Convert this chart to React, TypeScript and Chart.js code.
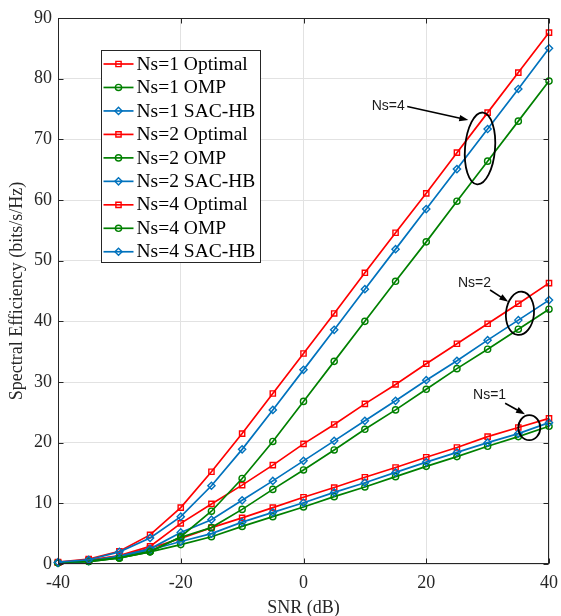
import React, { useEffect, useRef } from 'react';
import { Chart, registerables } from 'chart.js';

Chart.register(...registerables);

// ---- Data ----
const snrDb = [-40, -35, -30, -25, -20, -15, -10, -5, 0, 5, 10, 15, 20, 25, 30, 35, 40];

const ns1Optimal = [0.2, 0.6, 1.3, 2.6, 4.2, 6.0, 7.6, 9.3, 11.0, 12.6, 14.3, 15.9, 17.6, 19.2, 21.0, 22.5, 24.0];
const ns1Omp = [0.2, 0.4, 1.0, 2.0, 3.2, 4.5, 6.2, 7.8, 9.4, 11.1, 12.7, 14.4, 16.1, 17.7, 19.4, 21.0, 22.7];
const ns1SacHb = [0.2, 0.5, 1.2, 2.3, 3.7, 5.0, 6.9, 8.5, 10.1, 11.8, 13.4, 15.1, 16.8, 18.4, 20.0, 21.5, 23.3];

const ns2Optimal = [0.2, 0.6, 1.4, 2.9, 6.7, 9.9, 13.0, 16.3, 19.8, 23.0, 26.4, 29.6, 33.0, 36.3, 39.6, 42.9, 46.3];
const ns2Omp = [0.2, 0.4, 1.0, 2.1, 4.4, 6.0, 9.0, 12.3, 15.5, 18.8, 22.2, 25.4, 28.8, 32.2, 35.4, 38.7, 42.0];
const ns2SacHb = [0.2, 0.5, 1.3, 2.5, 5.2, 7.3, 10.5, 13.7, 17.0, 20.3, 23.6, 26.9, 30.3, 33.5, 36.9, 40.2, 43.5];

const ns4Optimal = [0.3, 0.8, 2.1, 4.8, 9.3, 15.2, 21.5, 28.1, 34.7, 41.3, 48.0, 54.6, 61.1, 67.8, 74.4, 81.0, 87.6];
const ns4Omp = [0.2, 0.5, 1.0, 2.0, 4.5, 8.7, 14.1, 20.2, 26.8, 33.4, 40.0, 46.6, 53.1, 59.8, 66.4, 73.0, 79.6];
const ns4SacHb = [0.3, 0.7, 2.0, 4.3, 7.8, 12.9, 18.9, 25.4, 32.0, 38.6, 45.3, 51.9, 58.5, 65.1, 71.7, 78.3, 85.0];

const seriesLabels = [
  'Ns=1 Optimal', 'Ns=1 OMP', 'Ns=1 SAC-HB',
  'Ns=2 Optimal', 'Ns=2 OMP', 'Ns=2 SAC-HB',
  'Ns=4 Optimal', 'Ns=4 OMP', 'Ns=4 SAC-HB',
];
const seriesValues = [
  ns1Optimal, ns1Omp, ns1SacHb,
  ns2Optimal, ns2Omp, ns2SacHb,
  ns4Optimal, ns4Omp, ns4SacHb,
];
const seriesKinds = ['opt', 'omp', 'sac', 'opt', 'omp', 'sac', 'opt', 'omp', 'sac'];

const xTickValues = [-40, -20, 0, 20, 40];
const yTickValues = [0, 10, 20, 30, 40, 50, 60, 70, 80, 90];

const xTitle = 'SNR (dB)';
const yTitle = 'Spectral Efficiency (bits/s/Hz)';

// Annotations (anchored in data coordinates)
const annotationLabels = ['Ns=4', 'Ns=2', 'Ns=1'];
const annotationTextAt = [[11.1, 75.5], [25.17, 46.37], [27.62, 27.86]];
const annotationArrowFrom = [[16.9, 75.4], [30.4, 45.16], [32.85, 26.49]];
const annotationArrowTo = [[26.85, 73.19], [33.37, 43.24], [36.09, 24.68]];
const annotationEllipseAt = [[28.76, 68.5], [35.27, 41.32], [36.79, 22.47]];

// ---- Styles ----
const STYLE: Record<string, { color: string; pointStyle: any; radius: number }> = {
  opt: { color: '#ff0000', pointStyle: 'rect', radius: 3.7 },
  omp: { color: '#008000', pointStyle: 'circle', radius: 3.1 },
  sac: { color: '#0072bd', pointStyle: 'rectRot', radius: 3.6 },
};
const ellipseSizes = [[15, 36, 0.08], [14, 21.7, 0.1], [11, 12.5, 0]];

const SERIF = '"Liberation Serif", "Times New Roman", serif';
const SANS = '"Liberation Sans", Arial, sans-serif';
const TEXT = '#262626';

function drawMarker(ctx: CanvasRenderingContext2D, kind: string, x: number, y: number) {
  const s = STYLE[kind];
  ctx.beginPath();
  if (kind === 'opt') {
    const h = s.radius * Math.SQRT1_2;
    ctx.rect(x - h, y - h, 2 * h, 2 * h);
  } else if (kind === 'omp') {
    ctx.arc(x, y, s.radius, 0, Math.PI * 2);
  } else {
    const r = s.radius;
    ctx.moveTo(x, y - r);
    ctx.lineTo(x + r, y);
    ctx.lineTo(x, y + r);
    ctx.lineTo(x - r, y);
    ctx.closePath();
  }
  ctx.stroke();
}

const overlayPlugin = {
  id: 'overlay',
  afterDatasetsDraw(chart: any) {
    const { ctx, chartArea: a, scales } = chart;
    const xs = scales.x;
    const ys = scales.y;
    ctx.save();
    // axes box
    ctx.strokeStyle = '#262626';
    ctx.lineWidth = 1;
    const L = Math.round(a.left) + 0.5;
    const R = Math.round(a.right) - 0.5;
    const T = Math.round(a.top) + 0.5;
    const B = Math.round(a.bottom) - 0.5;
    ctx.strokeRect(L, T, R - L, B - T);
    // inward ticks
    ctx.beginPath();
    xTickValues.forEach((v) => {
      const px = Math.round(xs.getPixelForValue(v)) + 0.5;
      ctx.moveTo(px, B); ctx.lineTo(px, B - 5);
      ctx.moveTo(px, T); ctx.lineTo(px, T + 5);
    });
    yTickValues.forEach((v) => {
      const py = Math.round(ys.getPixelForValue(v)) + 0.5;
      ctx.moveTo(L, py); ctx.lineTo(L + 5, py);
      ctx.moveTo(R, py); ctx.lineTo(R - 5, py);
    });
    ctx.stroke();

    // annotations
    ctx.strokeStyle = '#000';
    ctx.font = `14px ${SANS}`;
    ctx.textBaseline = 'middle';
    ctx.textAlign = 'left';
    annotationLabels.forEach((lab, i) => {
      const tx = xs.getPixelForValue(annotationTextAt[i][0]);
      const ty = ys.getPixelForValue(annotationTextAt[i][1]);
      ctx.fillStyle = '#1a1a1a';
      ctx.fillText(lab, tx, ty);
      const x0 = xs.getPixelForValue(annotationArrowFrom[i][0]);
      const y0 = ys.getPixelForValue(annotationArrowFrom[i][1]);
      const x1 = xs.getPixelForValue(annotationArrowTo[i][0]);
      const y1 = ys.getPixelForValue(annotationArrowTo[i][1]);
      const ang = Math.atan2(y1 - y0, x1 - x0);
      const head = 9;
      const hw = 3.2;
      ctx.lineWidth = 1.6;
      ctx.beginPath();
      ctx.moveTo(x0, y0);
      ctx.lineTo(x1 - Math.cos(ang) * head * 0.8, y1 - Math.sin(ang) * head * 0.8);
      ctx.stroke();
      ctx.beginPath();
      ctx.moveTo(x1, y1);
      ctx.lineTo(x1 - Math.cos(ang) * head - Math.sin(ang) * hw, y1 - Math.sin(ang) * head + Math.cos(ang) * hw);
      ctx.lineTo(x1 - Math.cos(ang) * head + Math.sin(ang) * hw, y1 - Math.sin(ang) * head - Math.cos(ang) * hw);
      ctx.closePath();
      ctx.fillStyle = '#000';
      ctx.fill();
      const ex = xs.getPixelForValue(annotationEllipseAt[i][0]);
      const ey = ys.getPixelForValue(annotationEllipseAt[i][1]);
      const [rx, ry, rot] = ellipseSizes[i];
      ctx.lineWidth = 1.8;
      ctx.beginPath();
      ctx.ellipse(ex, ey, rx, ry, rot, 0, Math.PI * 2);
      ctx.stroke();
    });
    ctx.restore();
  },
  afterDraw(chart: any) {
    const { ctx } = chart;
    ctx.save();
    // legend box
    const bx = 101.5, by = 50.5, bw = 159, bh = 212;
    ctx.fillStyle = '#ffffff';
    ctx.fillRect(bx, by, bw, bh);
    ctx.strokeStyle = '#262626';
    ctx.lineWidth = 1;
    ctx.strokeRect(bx, by, bw, bh);
    const rowH = 23.47;
    const y0 = 64;
    ctx.font = `19.5px ${SERIF}`;
    ctx.textBaseline = 'middle';
    ctx.textAlign = 'left';
    seriesLabels.forEach((lab, i) => {
      const yy = y0 + i * rowH;
      const st = STYLE[seriesKinds[i]];
      ctx.strokeStyle = st.color;
      ctx.lineWidth = 1.7;
      ctx.beginPath();
      ctx.moveTo(103.5, yy);
      ctx.lineTo(133.5, yy);
      ctx.stroke();
      ctx.lineWidth = 1.4;
      drawMarker(ctx, seriesKinds[i], 118.5, yy);
      ctx.fillStyle = '#000';
      ctx.fillText(lab, 136.5, yy + 0.5);
    });
    ctx.restore();
  },
};

export default function App() {
  const canvasRef = useRef<HTMLCanvasElement | null>(null);

  useEffect(() => {
    if (!canvasRef.current) return;
    const datasets = seriesLabels.map((label, i) => {
      const st = STYLE[seriesKinds[i]];
      return {
        label,
        data: snrDb.map((x, j) => ({ x, y: seriesValues[i][j] })),
        borderColor: st.color,
        backgroundColor: 'rgba(0,0,0,0)',
        borderWidth: 1.7,
        pointStyle: st.pointStyle,
        pointRadius: st.radius,
        pointBorderWidth: 1.4,
        pointBorderColor: st.color,
        pointBackgroundColor: 'rgba(0,0,0,0)',
        tension: 0,
        fill: false,
        clip: false as any,
        order: -i,
      };
    });

    const chart = new Chart(canvasRef.current, {
      type: 'line',
      data: { datasets },
      options: {
        animation: false,
        responsive: true,
        maintainAspectRatio: false,
        layout: { padding: { left: 0, right: 12, top: 18, bottom: 0 } },
        plugins: {
          legend: { display: false },
          tooltip: { enabled: false },
        },
        scales: {
          x: {
            type: 'linear',
            min: -40,
            max: 40,
            afterBuildTicks: (scale: any) => {
              scale.ticks = xTickValues.map((v) => ({ value: v }));
            },
            afterFit: (scale: any) => {
              scale.height = 52;
              scale.paddingLeft = 0;
              scale.paddingRight = 0;
            },
            ticks: {
              color: TEXT,
              font: { family: SERIF, size: 18, lineHeight: 1.2 },
              padding: 8,
              maxRotation: 0,
              autoSkip: false,
            },
            grid: { color: '#e2e2e2', lineWidth: 1, drawTicks: false },
            border: { display: false },
            title: {
              display: true,
              text: xTitle,
              color: TEXT,
              font: { family: SERIF, size: 18, lineHeight: 0.9 },
              padding: { top: 0, bottom: 0 },
            },
          },
          y: {
            type: 'linear',
            min: 0,
            max: 90,
            afterBuildTicks: (scale: any) => {
              scale.ticks = yTickValues.map((v) => ({ value: v }));
            },
            afterFit: (scale: any) => {
              scale.width = 58;
              scale.paddingTop = 0;
              scale.paddingBottom = 0;
            },
            ticks: {
              color: TEXT,
              font: { family: SERIF, size: 18, lineHeight: 1.2 },
              padding: 6,
              autoSkip: false,
            },
            grid: { color: '#e2e2e2', lineWidth: 1, drawTicks: false },
            border: { display: false },
            title: {
              display: true,
              text: yTitle,
              color: TEXT,
              font: { family: SERIF, size: 18, lineHeight: 1.2 },
              padding: { top: 6, bottom: 0 },
            },
          },
        },
      },
      plugins: [overlayPlugin],
    });

    return () => chart.destroy();
  }, []);

  return (
    <div style={{ position: 'fixed', left: 0, top: 0, width: 561, height: 616, background: '#ffffff' }}>
      <canvas ref={canvasRef} />
    </div>
  );
}
